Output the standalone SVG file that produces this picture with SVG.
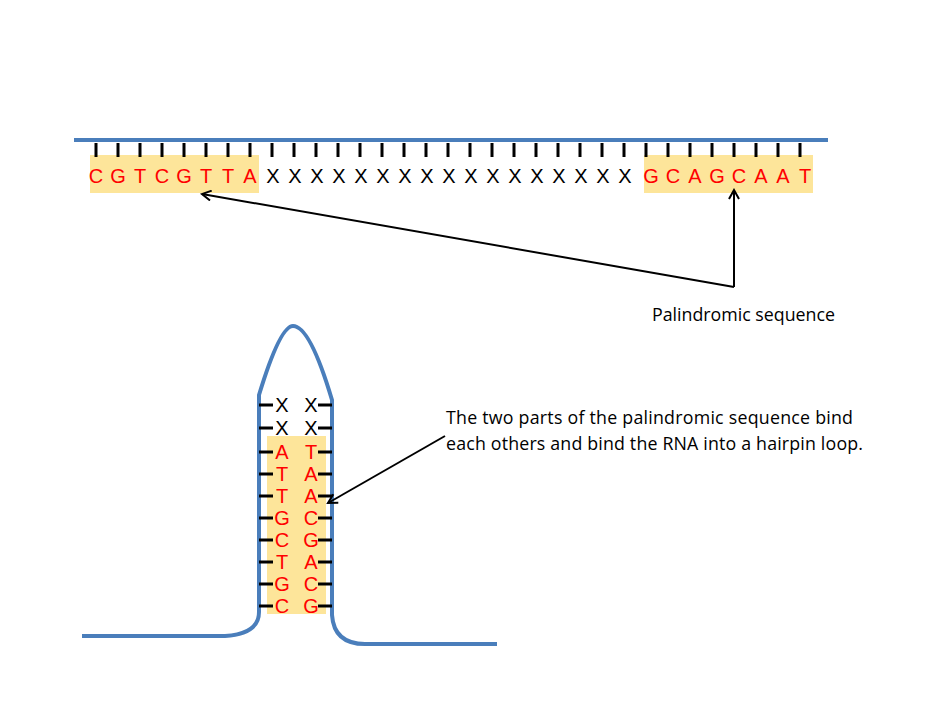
<svg xmlns="http://www.w3.org/2000/svg" width="947" height="711" viewBox="0 0 947 711">
<style>
.s{stroke:#4a7ebb;stroke-width:4;fill:none}
.t{stroke:#000;stroke-width:3}
.hl{fill:#fde59a}
.r{fill:#ff0000;font-family:"Liberation Sans",Arial,sans-serif;font-size:20px;text-anchor:middle}
.x{fill:#000;font-family:"Liberation Sans",Arial,sans-serif;font-size:20px;text-anchor:middle}
.lab{fill:#000;font-family:"Open Sans","Liberation Sans",sans-serif;font-size:17.8px}
.a{stroke:#000;stroke-width:2;fill:none}
</style>
<defs><marker id="ah" markerWidth="12" markerHeight="12" refX="10" refY="6" orient="auto" markerUnits="userSpaceOnUse"><path d="M1,1 L10,6 L1,11" fill="none" stroke="#000" stroke-width="2"/></marker></defs>
<g id="strand">
<rect class="hl" x="90" y="155" width="169" height="38"/>
<rect class="hl" x="644" y="155" width="169" height="38"/>
<line class="s" x1="74" y1="140" x2="828" y2="140"/>
<g id="ticks" class="t">
<path d="M96,143v14M118,143v14M140,143v14M162,143v14M184,143v14M206,143v14M228,143v14M250,143v14M272,143v14M294,143v14M316,143v14M338,143v14M360,143v14M382,143v14M404,143v14M426,143v14M448,143v14M470,143v14M492,143v14M514,143v14M536,143v14M558,143v14M580,143v14M602,143v14M624,143v14M646,143v14M668,143v14M690,143v14M712,143v14M734,143v14M756,143v14M778,143v14M800,143v14"/>
</g>
<g class="r"><text x="96" y="183">C</text><text x="118" y="183">G</text><text x="140" y="183">T</text><text x="162" y="183">C</text><text x="184" y="183">G</text><text x="206" y="183">T</text><text x="228" y="183">T</text><text x="250" y="183">A</text>
<text x="651" y="183">G</text><text x="673" y="183">C</text><text x="695" y="183">A</text><text x="717" y="183">G</text><text x="739" y="183">C</text><text x="761" y="183">A</text><text x="783" y="183">A</text><text x="805" y="183">T</text></g>
<g class="x"><text x="273" y="183">X</text><text x="295" y="183">X</text><text x="317" y="183">X</text><text x="339" y="183">X</text><text x="361" y="183">X</text><text x="383" y="183">X</text><text x="405" y="183">X</text><text x="427" y="183">X</text><text x="449" y="183">X</text><text x="471" y="183">X</text><text x="493" y="183">X</text><text x="515" y="183">X</text><text x="537" y="183">X</text><text x="559" y="183">X</text><text x="581" y="183">X</text><text x="603" y="183">X</text><text x="625" y="183">X</text></g>
</g>
<g id="hairpin">
<rect class="hl" x="267" y="436" width="59" height="178"/>
<path class="s" d="M82,636 H225 Q259,634 259,612 V395 Q280,326 293,326 Q310,326 332,400 V615 Q334,644 365,644 H497"/>
<path class="t" d="M259,405h14M318,405h14M259,428h14M318,428h14M259,452h14M318,452h14M259,474h14M318,474h14M259,496h14M318,496h14M259,518h14M318,518h14M259,540h14M318,540h14M259,562h14M318,562h14M259,584h14M318,584h14M259,606h14M318,606h14"/>
<g class="x"><text x="282" y="412">X</text><text x="311" y="412">X</text><text x="282" y="435">X</text><text x="311" y="435">X</text></g>
<g class="r">
<text x="282" y="459">A</text><text x="311" y="459">T</text>
<text x="282" y="481">T</text><text x="311" y="481">A</text>
<text x="282" y="503">T</text><text x="311" y="503">A</text>
<text x="282" y="525">G</text><text x="311" y="525">C</text>
<text x="282" y="547">C</text><text x="311" y="547">G</text>
<text x="282" y="569">T</text><text x="311" y="569">A</text>
<text x="282" y="591">G</text><text x="311" y="591">C</text>
<text x="282" y="613">C</text><text x="311" y="613">G</text>
</g>
</g>
<g id="connectors">
<line class="a" x1="734" y1="287" x2="202" y2="194" marker-end="url(#ah)"/>
<line class="a" x1="734" y1="287" x2="734" y2="190" marker-end="url(#ah)"/>
<line class="a" x1="445" y1="436" x2="328" y2="503" marker-end="url(#ah)"/>
</g>
<g id="labels" class="lab">
<text x="652" y="321" textLength="183">Palindromic sequence</text>
<text x="446" y="424" textLength="407">The two parts of the palindromic sequence bind</text>
<text x="446" y="450" textLength="417">each others and bind the RNA into a hairpin loop.</text>
</g>
</svg>
